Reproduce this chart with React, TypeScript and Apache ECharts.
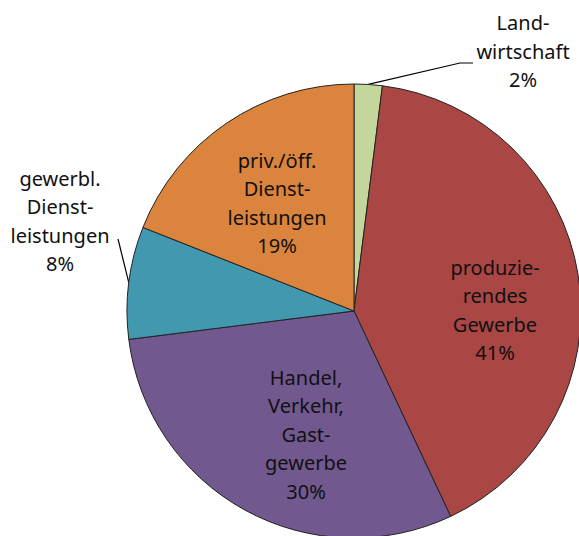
import React, { useEffect, useRef } from "react";
import * as echarts from "echarts";

const categories = [
  "Land-\nwirtschaft",
  "produzie-\nrendes\nGewerbe",
  "Handel,\nVerkehr,\nGast-\ngewerbe",
  "gewerbl.\nDienst-\nleistungen",
  "priv./öff.\nDienst-\nleistungen",
];
const shares = [2, 41, 30, 8, 19];
const colors = ["#C3D69B", "#AA4643", "#71588F", "#4198AF", "#DB843D"];
const outside = [true, false, false, true, false];

// label anchors (centre of text block) and leader-line bends
const labelPos: [number, number][] = [
  [523, 51],
  [495, 310],
  [306, 434],
  [60, 221],
  [277, 203],
];
const lineBends: ([number, number][] | null)[] = [
  [[460, 63], [473, 63]],
  null,
  null,
  [[118, 239]],
  null,
];

const CX = 354;
const CY = 311;
const R = 227;

export default function App() {
  const ref = useRef<HTMLDivElement>(null);
  useEffect(() => {
    document.body.style.margin = "0";
    const chart = echarts.init(ref.current!, null, { renderer: "svg" });
    const total = shares.reduce((a, b) => a + b, 0);
    const mids: number[] = [];
    let acc = 0;
    shares.forEach((v) => {
      mids.push(((acc + v / 2) / total) * Math.PI * 2);
      acc += v;
    });
    chart.setOption({
      animation: false,
      backgroundColor: "#ffffff",
      series: [
        {
          type: "pie",
          center: [CX, CY],
          radius: R,
          startAngle: 90,
          clockwise: true,
          avoidLabelOverlap: false,
          itemStyle: { borderColor: "#222", borderWidth: 1 },
          emphasis: { disabled: true },
          label: {
            formatter: "{b}\n{c}%",
            fontFamily: "Noto Sans",
            fontSize: 20,
            lineHeight: 28.5,
            color: "#111",
            align: "center",
          },
          labelLine: { lineStyle: { color: "#000", width: 1.2 } },
          labelLayout: (params: any) => {
            const i = params.dataIndex;
            const out: any = {
              x: labelPos[i][0],
              y: labelPos[i][1],
              align: "center",
              verticalAlign: "middle",
            };
            if (outside[i] && lineBends[i]) {
              const a = mids[i];
              const start: [number, number] = [CX + R * Math.sin(a), CY - R * Math.cos(a)];
              out.labelLinePoints = [start, ...(lineBends[i] as [number, number][])];
            }
            return out;
          },
          data: categories.map((name, i) => ({
            name,
            value: shares[i],
            itemStyle: { color: colors[i] },
            label: { position: outside[i] ? "outside" : "inside" },
            labelLine: { show: outside[i] },
          })),
        },
      ],
    });
    return () => chart.dispose();
  }, []);
  return <div ref={ref} style={{ width: 579, height: 536 }} />;
}
